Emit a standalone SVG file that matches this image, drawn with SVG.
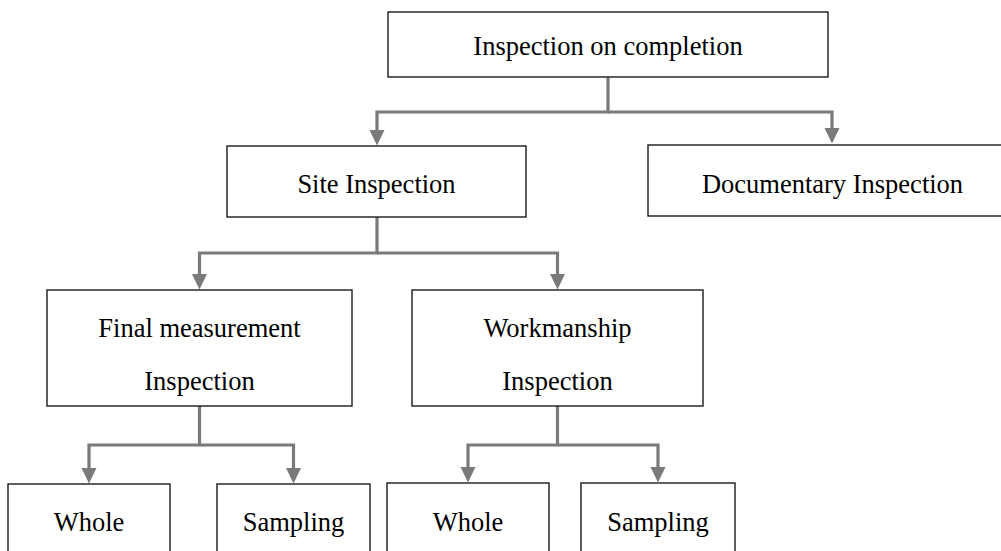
<svg xmlns="http://www.w3.org/2000/svg" width="1001" height="551" viewBox="0 0 1001 551">
  <style>
    .box { fill: #ffffff; stroke: #1a1a1a; stroke-width: 1.4; }
    .lbl { font-family: "Liberation Serif", "Times New Roman", serif; font-size: 26.5px; fill: #000; text-anchor: middle; }
    .link { fill: none; stroke: #7a7a7a; stroke-width: 3.2; stroke-linejoin: miter; }
  </style>
  <defs>
    <marker id="arrow" markerUnits="userSpaceOnUse" markerWidth="16" markerHeight="16" viewBox="0 0 16 16" refX="1" refY="8" orient="auto">
      <path d="M0,0.5 L15.5,8 L0,15.5 Z" fill="#7a7a7a"/>
    </marker>
  </defs>

  <rect width="1001" height="551" fill="#ffffff"/>

  <!-- tree connectors -->
  <g id="connectors">
    <path class="link" d="M608,77 V112 H377 V131" marker-end="url(#arrow)"/>
    <path class="link" d="M608,112 H832 V129" marker-end="url(#arrow)"/>
    <path class="link" d="M377,217 V253 H199.5 V275" marker-end="url(#arrow)"/>
    <path class="link" d="M377,253 H557.5 V275" marker-end="url(#arrow)"/>
    <path class="link" d="M199.5,406 V445 H89 V469" marker-end="url(#arrow)"/>
    <path class="link" d="M199.5,445 H293.5 V469" marker-end="url(#arrow)"/>
    <path class="link" d="M557.5,406 V445 H468 V468" marker-end="url(#arrow)"/>
    <path class="link" d="M557.5,445 H658 V468" marker-end="url(#arrow)"/>
  </g>

  <g id="completion">
    <rect class="box" x="388" y="12" width="440" height="65"/>
    <text class="lbl" x="608" y="54.5">Inspection on completion</text>
  </g>

  <g id="site">
    <rect class="box" x="227" y="146" width="299" height="71"/>
    <text class="lbl" x="376.5" y="193">Site Inspection</text>
  </g>

  <g id="documentary">
    <rect class="box" x="648" y="145" width="368" height="71"/>
    <text class="lbl" x="832.5" y="193">Documentary Inspection</text>
  </g>

  <g id="final-measurement">
    <rect class="box" x="47" y="290" width="305" height="116"/>
    <text class="lbl" x="199.5" y="337">Final measurement</text>
    <text class="lbl" x="199.5" y="390">Inspection</text>
  </g>

  <g id="workmanship">
    <rect class="box" x="412" y="290" width="291" height="116"/>
    <text class="lbl" x="557.5" y="337">Workmanship</text>
    <text class="lbl" x="557.5" y="390">Inspection</text>
  </g>

  <g id="fm-whole">
    <rect class="box" x="8" y="484" width="162" height="90"/>
    <text class="lbl" x="89" y="531">Whole</text>
  </g>

  <g id="fm-sampling">
    <rect class="box" x="217" y="484" width="153" height="90"/>
    <text class="lbl" x="293.5" y="531">Sampling</text>
  </g>

  <g id="wm-whole">
    <rect class="box" x="387" y="483" width="162" height="90"/>
    <text class="lbl" x="468" y="531">Whole</text>
  </g>

  <g id="wm-sampling">
    <rect class="box" x="581" y="483" width="154" height="90"/>
    <text class="lbl" x="658" y="531">Sampling</text>
  </g>
</svg>
